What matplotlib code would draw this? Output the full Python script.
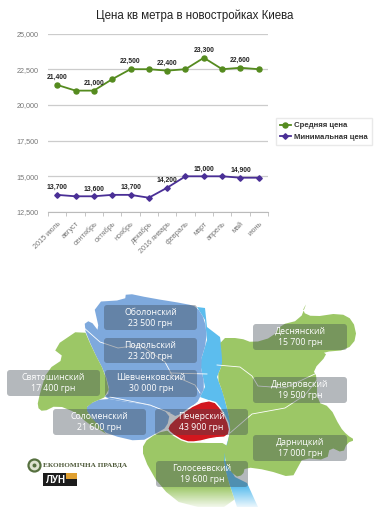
#!/usr/bin/env python3
"""Цена кв метра в новостройках Киева: line chart plus district map."""

import matplotlib
matplotlib.use("Agg")
import matplotlib.pyplot as plt
import numpy as np
from matplotlib.patches import Circle, FancyBboxPatch, Polygon, Rectangle

W, H = 382, 514

MONTHS = ["2015 июль", "август", "сентябрь", "октябрь", "ноябрь", "декабрь",
          "2016 январь", "февраль", "март", "апрель", "май", "июнь"]
AVG_PRICE = [21400, 21000, 21000, 21800, 22500, 22500,
             22400, 22500, 23300, 22500, 22600, 22500]
MIN_PRICE = [13700, 13600, 13600, 13700, 13700, 13500,
             14200, 15000, 15000, 15000, 14900, 14900]
LABELLED = [0, 2, 4, 6, 8, 10]
Y_TICKS = [12500, 15000, 17500, 20000, 22500, 25000]

# map shapes, in image pixels
RIGHT_BANK_N = [(93, 302), (125, 300), (126, 293), (150, 298), (187, 304), (197, 307),
                (205, 320), (207, 340), (200, 363), (205, 387), (200, 397), (197, 403),
                (177, 417), (170, 413), (150, 405), (127, 402), (103, 398), (110, 392),
                (105, 373), (93, 350), (83, 325), (90, 320), (100, 333)]
SOLOMENSKY = [(87, 405), (103, 398), (127, 402), (150, 405), (170, 413), (167, 427),
              (157, 433), (140, 442), (110, 435), (97, 427), (87, 413)]
SVIATOSHYN = [(83, 327), (52, 348), (65, 358), (47, 370), (40, 393), (37, 407), (43, 412),
              (57, 405), (77, 413), (87, 423), (100, 430), (108, 435), (87, 413), (87, 405),
              (110, 395), (105, 373), (93, 350)]
GOLOSEEV = [(143, 443), (157, 433), (170, 430), (187, 442), (200, 443), (230, 443),
            (223, 457), (227, 477), (237, 507), (185, 507), (160, 487), (143, 457)]
RIVER = [(197, 307), (205, 308), (207, 327), (220, 337), (223, 357), (222, 365), (217, 377),
         (223, 393), (230, 420), (232, 433), (225, 460), (235, 477), (247, 483),
         (258, 507), (237, 507), (227, 477), (223, 457), (230, 433), (217, 403),
         (200, 397), (205, 387), (200, 363), (207, 340), (205, 320)]
LEFT_BANK = [(307, 302), (302, 312), (313, 317), (340, 313), (353, 320), (357, 338),
             (347, 350), (323, 352), (327, 355), (313, 370), (317, 377), (317, 402),
             (330, 407), (340, 427), (347, 435), (355, 440), (347, 443), (343, 453),
             (330, 447), (327, 460), (303, 458), (298, 467), (292, 478), (267, 470),
             (245, 467), (243, 475), (235, 477), (223, 460), (230, 433), (230, 420),
             (223, 393), (217, 377), (222, 365), (222, 357), (220, 338), (240, 338),
             (253, 343), (273, 337), (280, 325), (300, 320)]
PECHERSK = [(167, 427), (177, 417), (197, 403), (213, 400), (222, 410), (230, 427),
            (228, 437), (213, 438), (197, 442), (185, 442), (170, 433)]
ROADS = [[(217, 365), (240, 367), (252, 376), (258, 386), (285, 388), (317, 373)],
         [(230, 433), (252, 414), (285, 408), (305, 395), (317, 380)],
         [(83, 327), (100, 342), (118, 348), (140, 345), (165, 362), (172, 375), (195, 385), (200, 393)],
         [(110, 397), (150, 405), (170, 413)],
         [(170, 373), (207, 374)]]

# name, price, left, top, right, bottom
DISTRICTS = [("Оболонский", "23 500 грн", 104, 305, 197, 330),
             ("Подольский", "23 200 грн", 104, 338, 197, 363),
             ("Шевченковский", "30 000 грн", 105, 370, 197, 397),
             ("Святошинский", "17 400 грн", 7, 370, 100, 396),
             ("Соломенский", "21 600 грн", 53, 409, 146, 435),
             ("Печерский", "43 900 грн", 155, 409, 248, 435),
             ("Голосеевский", "19 600 грн", 156, 461, 248, 487),
             ("Деснянский", "15 700 грн", 253, 324, 347, 350),
             ("Днепровский", "19 500 грн", 253, 377, 347, 403),
             ("Дарницкий", "17 000 грн", 253, 435, 347, 461)]

GREEN, PURPLE = "#558b1f", "#4a2f96"
MAP_GREEN, MAP_BLUE, RIVER_BLUE = "#9cc766", "#7ea9dd", "#5cbdee"


def soften(points):
    """One pass of corner cutting so the outlines are not so angular."""
    pts = np.array(points, dtype=float)
    nxt = np.roll(pts, -1, axis=0)
    out = np.empty((len(pts) * 2, 2))
    out[0::2] = 0.75 * pts + 0.25 * nxt
    out[1::2] = 0.25 * pts + 0.75 * nxt
    return out


def draw_map(ax):
    ax.set_xlim(0, W); ax.set_ylim(H, 0); ax.axis("off")
    ax.add_patch(Polygon(RIVER, fc=RIVER_BLUE, ec="none", zorder=1))
    for shape in (RIGHT_BANK_N, SOLOMENSKY):
        ax.add_patch(Polygon(soften(shape), fc=MAP_BLUE, ec="none", zorder=2))
    for shape in (SVIATOSHYN, GOLOSEEV, LEFT_BANK):
        ax.add_patch(Polygon(soften(shape), fc=MAP_GREEN, ec="none", zorder=2))
    ax.add_patch(Polygon(soften(PECHERSK), fc="#d2171e", ec="white", lw=1, zorder=3))
    for road in ROADS:
        xs, ys = zip(*road)
        ax.plot(xs, ys, color="white", lw=0.6, zorder=4)

    # map fades out at the bottom edge
    fade = np.ones((32, 2, 4))
    fade[..., 3] = np.linspace(0, 1, 32)[:, None]
    ax.imshow(fade, extent=(140, 270, 510, 486), aspect="auto", zorder=5)
    ax.set_xlim(0, W); ax.set_ylim(H, 0)

    for name, price, x0, y0, x1, y1 in DISTRICTS:
        ax.add_patch(FancyBboxPatch((x0 + 3, y0 + 3), x1 - x0 - 6, y1 - y0 - 6,
                                    boxstyle="round,pad=3", fc="#3c4650", ec="none",
                                    alpha=0.38, zorder=6))
        cx = (x0 + x1) / 2
        for txt, yy in ((name, y0 + 7.5), (price, y0 + 18.5)):
            ax.text(cx, yy, txt, ha="center", va="center", color="white",
                    fontsize=6.3, family="Open Sans", zorder=7)

    # logos
    ax.add_patch(Circle((34.5, 465.5), 6, fc="#dfe3d0", ec="#56703f", lw=1.6, zorder=6))
    ax.add_patch(Circle((34.5, 465.5), 2, fc="#56703f", ec="none", zorder=7))
    ax.text(43, 465.5, "ЕКОНОМІЧНА ПРАВДА", ha="left", va="center", color="#4f5a3a",
            fontsize=5.2, family="Liberation Serif", fontweight="bold", zorder=7)
    ax.add_patch(Rectangle((43, 473), 34, 13, fc="#1c1c1c", ec="none", zorder=6))
    ax.add_patch(Rectangle((66, 473), 11, 6, fc="#e0a030", ec="none", zorder=7))
    ax.text(46, 480, "ЛУН", ha="left", va="center", color="white", fontsize=7,
            fontweight="bold", family="Liberation Sans", zorder=8)


def draw_chart(ax):
    x = np.arange(len(MONTHS))
    ax.plot(x, AVG_PRICE, "-o", color=GREEN, lw=1.3, ms=3.6, label="Средняя цена", zorder=3)
    ax.plot(x, MIN_PRICE, "-D", color=PURPLE, lw=1.3, ms=2.8, label="Минимальная цена", zorder=3)
    for series in (AVG_PRICE, MIN_PRICE):
        for i in LABELLED:
            ax.annotate(f"{series[i]:,}", (x[i], series[i]), xytext=(0, 2.8),
                        textcoords="offset points", ha="center", va="bottom",
                        fontsize=4.9, fontweight="bold", color="#222222", zorder=4)

    ax.set_xlim(-0.5, 11.5); ax.set_ylim(12500, 25000)
    ax.set_yticks(Y_TICKS)
    ax.set_yticklabels([f"{v:,}" for v in Y_TICKS], fontsize=5.2, color="#777777")
    ax.grid(axis="y", color="#cccccc", lw=0.9)
    ax.set_axisbelow(True)
    for s in ("top", "right", "left"):
        ax.spines[s].set_visible(False)
    ax.spines["bottom"].set_color("#bbbbbb")
    ax.tick_params(axis="y", length=0, pad=7)
    ax.set_xticks(x)
    ax.set_xticklabels(MONTHS, rotation=45, ha="right", rotation_mode="anchor",
                       fontsize=5.2, color="#777777")
    ax.set_xticks(np.arange(-0.5, 12), minor=True)
    ax.tick_params(axis="x", which="major", length=0, pad=6)
    ax.tick_params(axis="x", which="minor", length=3, color="#bbbbbb")
    ax.patch.set_alpha(0)

    leg = ax.legend(loc="upper left", bbox_to_anchor=(228 / 220, 1 - 84.5 / 178.5), borderaxespad=0,
                    prop={"family": "Liberation Sans", "weight": "bold", "size": 5.6},
                    frameon=True, fancybox=False, edgecolor="#e4e4e4", handlelength=1.4,
                    handletextpad=0.4, borderpad=0.5, labelspacing=0.55)
    for t in leg.get_texts():
        t.set_color("#333333")


def main():
    plt.rcParams["font.family"] = ["Liberation Sans", "DejaVu Sans"]
    fig = plt.figure(figsize=(W / 100, H / 100), dpi=100, facecolor="white")
    draw_map(fig.add_axes([0, 0, 1, 1]))
    chart = fig.add_axes([48 / W, 1 - 212 / H, 220 / W, 178.5 / H])
    draw_chart(chart)
    fig.text(195 / W, 1 - 15.5 / H, "Цена кв метра в новостройках Киева", ha="center", va="center",
             fontsize=8.3, color="#222222")
    fig.savefig("out.png", dpi=100)


if __name__ == "__main__":
    main()
